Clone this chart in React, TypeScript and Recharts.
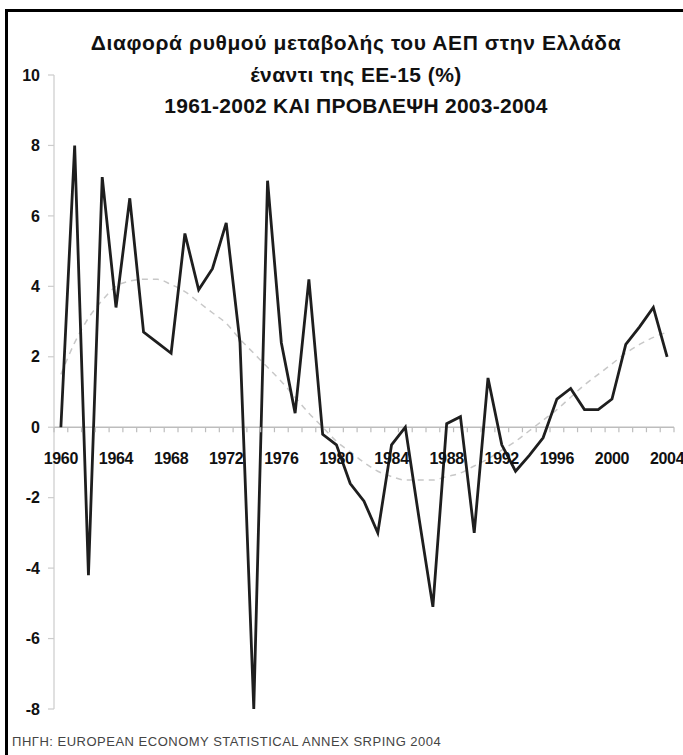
import { LineChart, Line, XAxis, YAxis, ReferenceLine } from 'recharts'

const YEARS = [
  1960, 1961, 1962, 1963, 1964, 1965, 1966, 1967, 1968, 1969, 1970, 1971,
  1972, 1973, 1974, 1975, 1976, 1977, 1978, 1979, 1980, 1981, 1982, 1983,
  1984, 1985, 1986, 1987, 1988, 1989, 1990, 1991, 1992, 1993, 1994, 1995,
  1996, 1997, 1998, 1999, 2000, 2001, 2002, 2003, 2004,
]

// difference of GDP growth Greece vs EU-15 (%)
const GDP_DIFF = [
  0, 8.0, -4.2, 7.1, 3.4, 6.5, 2.7, 2.4, 2.1, 5.5, 3.9, 4.5,
  5.8, 2.4, -8.0, 7.0, 2.4, 0.4, 4.2, -0.2, -0.5, -1.6, -2.1, -3.0,
  -0.5, 0.0, -2.6, -5.1, 0.1, 0.3, -3.0, 1.4, -0.5, -1.25, -0.8, -0.3,
  0.8, 1.1, 0.5, 0.5, 0.8, 2.35, 2.85, 3.4, 2.0,
]

// polynomial trend (dashed grey)
const TREND = [
  1.5, 2.4, 3.1, 3.6, 4.0, 4.15, 4.2, 4.2, 4.05, 3.85, 3.55, 3.25,
  2.95, 2.5, 2.1, 1.7, 1.3, 0.85, 0.4, 0.0, -0.4, -0.7, -1.0, -1.25,
  -1.4, -1.5, -1.5, -1.5, -1.4, -1.3, -1.1, -0.9, -0.65, -0.4, -0.1, 0.2,
  0.5, 0.85, 1.2, 1.5, 1.8, 2.1, 2.35, 2.55, 2.7,
]

const Y_TICKS = [-8, -6, -4, -2, 0, 2, 4, 6, 8, 10]
const LABEL_YEARS = [1960, 1964, 1968, 1972, 1976, 1980, 1984, 1988, 1992, 1996, 2000, 2004]

const TITLE = [
  'Διαφορά ρυθμού μεταβολής του ΑΕΠ στην Ελλάδα',
  'έναντι της ΕΕ-15 (%)',
  '1961-2002 ΚΑΙ ΠΡΟΒΛΕΨΗ 2003-2004',
]
const TITLE_SPACING = [0.6, 0.45, 0.25]
const SOURCE = 'ΠΗΓΗ: EUROPEAN ECONOMY STATISTICAL ANNEX SRPING 2004'

const data = YEARS.map((year, i) => ({ year, diff: GDP_DIFF[i], trend: TREND[i] }))

const W = 683
const H = 755
const MARGIN = { top: 75, right: 9, bottom: 16, left: 0 }
const Y_AXIS_W = 54
const X_AXIS_H = 30
const PLOT_H = H - MARGIN.top - MARGIN.bottom - X_AXIS_H
const PLOT_W = W - MARGIN.left - Y_AXIS_W - MARGIN.right
const Y_MIN = -8
const Y_MAX = 10
const ZERO_Y = MARGIN.top + (Y_MAX / (Y_MAX - Y_MIN)) * PLOT_H
const STEP = PLOT_W / YEARS.length

const FONT = '"Liberation Sans", Arial, sans-serif'

// x axis drawn on the zero line, Excel style (ticks between categories)
const YearTick = ({ x, payload }: any) => {
  const year = payload.value
  const last = year === YEARS[YEARS.length - 1]
  return (
    <g>
      <line x1={x - STEP / 2} x2={x - STEP / 2} y1={ZERO_Y} y2={ZERO_Y + 5} stroke='#bdbdbd' strokeWidth={1.2} />
      {last && (
        <line x1={x + STEP / 2} x2={x + STEP / 2} y1={ZERO_Y} y2={ZERO_Y + 5} stroke='#bdbdbd' strokeWidth={1.2} />
      )}
      {LABEL_YEARS.includes(year) && (
        <text
          x={x}
          y={ZERO_Y + 37}
          textAnchor='middle'
          fill='#111'
          fontSize={16}
          fontWeight='bold'
          fontFamily={FONT}
          letterSpacing={-0.3}
        >
          {year}
        </text>
      )}
    </g>
  )
}

const App = () => {
  return (
    <div style={{ position: 'absolute', left: 0, top: 0, width: W, height: H, background: '#fff', overflow: 'hidden' }}>
      <div
        style={{
          position: 'absolute',
          left: 5,
          top: 9,
          width: W,
          height: H,
          borderTop: '3px solid #000',
          borderLeft: '3px solid #000',
        }}
      />
      {TITLE.map((line, i) => (
        <div
          key={line}
          style={{
            position: 'absolute',
            left: 356,
            top: 31 + i * 31.5,
            transform: 'translateX(-50%)',
            whiteSpace: 'nowrap',
            fontFamily: FONT,
            fontWeight: 'bold',
            fontSize: 21,
            letterSpacing: TITLE_SPACING[i],
            color: '#111',
          }}
        >
          {line}
        </div>
      ))}
      <div
        style={{
          position: 'absolute',
          left: 12,
          top: 734,
          whiteSpace: 'nowrap',
          fontFamily: FONT,
          fontSize: 13,
          letterSpacing: 0.5,
          color: '#444',
        }}
      >
        {SOURCE}
      </div>
      <div style={{ position: 'absolute', left: 0, top: 0 }}>
        <LineChart width={W} height={H} data={data} margin={MARGIN}>
          <XAxis
            dataKey='year'
            type='number'
            domain={[1959.5, 2004.5]}
            ticks={YEARS}
            interval={0}
            height={X_AXIS_H}
            axisLine={false}
            tickLine={false}
            tick={<YearTick />}
          />
          <YAxis
            width={Y_AXIS_W}
            domain={[Y_MIN, Y_MAX]}
            ticks={Y_TICKS}
            interval={0}
            axisLine={{ stroke: '#cccccc', strokeWidth: 1.2 }}
            tickLine={{ stroke: '#cccccc', strokeWidth: 1.2 }}
            tickSize={6}
            tickMargin={8}
            tick={{ fill: '#111', fontSize: 16, fontWeight: 'bold', fontFamily: FONT }}
          />
          <ReferenceLine y={0} stroke='#bdbdbd' strokeWidth={1.5} />
          <Line
            dataKey='trend'
            type='monotone'
            stroke='#c8c8c8'
            strokeWidth={1.5}
            strokeDasharray='6 5'
            dot={false}
            isAnimationActive={false}
          />
          <Line
            dataKey='diff'
            type='linear'
            stroke='#1e1e1e'
            strokeWidth={2.8}
            dot={false}
            isAnimationActive={false}
          />
        </LineChart>
      </div>
    </div>
  )
}

export default App
